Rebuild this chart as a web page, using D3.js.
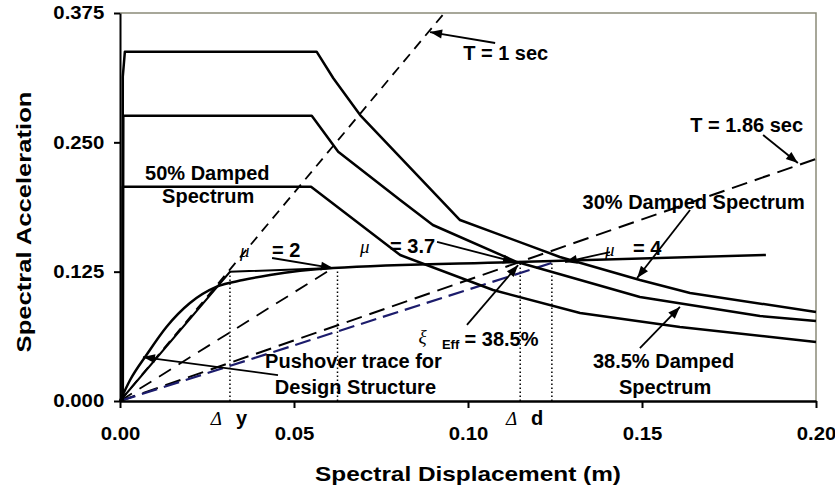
<!DOCTYPE html>
<html><head><meta charset="utf-8">
<script src="https://cdnjs.cloudflare.com/ajax/libs/d3/7.8.5/d3.min.js"></script>
<style>
body{margin:0;background:#fff}
svg text{font-family:"Liberation Sans",Arial,sans-serif;fill:#000}
</style></head><body><div id="chart"></div>
<script>
var xTicks = [0, 0.05, 0.10, 0.15, 0.20];
var yTicks = [0, 0.125, 0.250, 0.375];

// damped spectra, Sd (m) and Sa (g)
var sd30 = [0.0007, 0.0008, 0.0014, 0.0565, 0.0613, 0.0690, 0.0977, 0.1264, 0.1494, 0.1638, 0.2000];
var sa30 = [0, 0.3134, 0.3376, 0.3376, 0.3119, 0.2764, 0.1749, 0.1392, 0.1169, 0.1044, 0.0860];
var sd385 = [0.0008, 0.00095, 0.0551, 0.0627, 0.0805, 0.0899, 0.1141, 0.1494, 0.1839, 0.2000];
var sa385 = [0, 0.2757, 0.2757, 0.2410, 0.1943, 0.1701, 0.1343, 0.1005, 0.0822, 0.0773];
var sd50 = [0.0008, 0.0008, 0.0549, 0.0805, 0.1072, 0.1322, 0.1609, 0.2000];
var sa50 = [0, 0.2071, 0.2071, 0.1411, 0.1073, 0.0851, 0.0715, 0.0570];

// pushover trace and its bilinear idealisation
var sdPush = [0, 0.0029, 0.0077, 0.0134, 0.0201, 0.0278, 0.0353, 0.0431, 0.0612, 0.1141, 0.1856];
var saPush = [0, 0.0203, 0.0450, 0.0718, 0.0947, 0.1105, 0.1169, 0.1218, 0.1285, 0.1343, 0.1411];
var sdBilin = [0, 0.0316, 0.0612];
var saBilin = [0, 0.1249, 0.1285];

// period lines from the origin
var sdT1 = [0, 0.0932], saT1 = [0, 0.375];
var sdT186 = [0, 0.2], saT186 = [0, 0.2340];
var sdMu2 = [0, 0.0612], saMu2 = [0, 0.1285];
var sdMu4 = [0, 0.1241], saMu4 = [0, 0.1335];

// dotted drops: delta y, mu=2, delta d, mu=4
var sdDrop = [0.0316, 0.0625, 0.1150, 0.1241];
var saDrop = [0.1249, 0.1285, 0.1343, 0.1363];

// arrows (tail -> head)
var arrowFrom = [[.1078,.346],[.1848,.2571],[.1638,.1846],[.1408,.1440],[.0911,.1537],[.0437,.1382],[.0997,.0735],[.1494,.0512],[.0454,.0251]];
var arrowTo = [[.0891,.3566],[.1948,.2300],[.1486,.1189],[.1279,.1343],[.1135,.1343],[.0612,.1285],[.1144,.1314],[.1609,.0909],[.0066,.0425]];

var notes = [
  ["T = 1 sec", .0986, .3296, "start"],
  ["T = 1.86 sec", .1963, .2600, "end"],
  ["30% Damped Spectrum", .1968, .1856, "end"],
  ["50% Damped", .0072, .2136, "start"],
  ["Spectrum", .0121, .1914, "start"],
  ["Pushover trace for", .0417, .0319, "start"],
  ["Design Structure", .0445, .0068, "start"],
  ["38.5% Damped", .1359, .0319, "start"],
  ["Spectrum", .1434, .0068, "start"],
  ["= 2", .0437, .1392, "start"],
  ["= 3.7", .0776, .1430, "start"],
  ["= 4", .1474, .1411, "start"],
  ["= 38.5%", .0990, .0530, "start"],
  ["y", .0333, -.0232, "start"],
  ["d", .1181, -.0232, "start"]
];
var greek = [["μ", .0345, .1392], ["μ", .0690, .1430], ["μ", .1394, .1401], ["ξ", .0858, .0560], ["Δ", .0261, -.0232], ["Δ", .1109, -.0232]];

var W = 835, H = 490;
var x = d3.scaleLinear().domain([0, 0.2]).range([120, 816]);
var y = d3.scaleLinear().domain([0, 0.375]).range([401, 13]);
var SX = 1.13;

var svg = d3.select("#chart").append("svg").attr("width", W).attr("height", H);

svg.append("defs").append("marker").attr("id", "head").attr("viewBox", "0 -5 12 10").attr("refX", 12).attr("refY", 0)
  .attr("markerUnits", "userSpaceOnUse").attr("markerWidth", 13).attr("markerHeight", 10).attr("orient", "auto")
  .append("path").attr("d", "M0,-4.5L12,0L0,4.5Z").attr("fill", "#000");

// plot frame (top & right)
svg.append("path").attr("d", `M${x(0)},${y(0.375)}H${x(0.2)}V${y(0)}`).attr("fill", "none").attr("stroke", "#8a8a78").attr("stroke-width", 1.5);

var line = d3.line().x(p => x(p[0])).y(p => y(p[1]));
function pts(ds, as) { return ds.map((d, i) => [d, as[i]]); }

// dotted drops
svg.append("g").selectAll("line").data(pts(sdDrop, saDrop)).join("line")
  .attr("x1", p => x(p[0])).attr("x2", p => x(p[0])).attr("y1", y(0)).attr("y2", p => y(p[1]))
  .attr("stroke", "#000").attr("stroke-width", 1.5).attr("stroke-dasharray", "1.5,2.5");

// period lines
svg.append("path").attr("d", line(pts(sdT1, saT1))).attr("fill", "none").attr("stroke", "#000").attr("stroke-width", 1.8).attr("stroke-dasharray", "10,7");
svg.append("path").attr("d", line(pts(sdT186, saT186))).attr("fill", "none").attr("stroke", "#000").attr("stroke-width", 2).attr("stroke-dasharray", "16,8");
svg.append("path").attr("d", line(pts(sdMu2, saMu2))).attr("fill", "none").attr("stroke", "#000").attr("stroke-width", 1.8).attr("stroke-dasharray", "14,9");
svg.append("path").attr("d", line(pts(sdMu4, saMu4))).attr("fill", "none").attr("stroke", "#1c1c6c").attr("stroke-width", 2.2).attr("stroke-dasharray", "16,7");

// spectra
[[sd30, sa30], [sd385, sa385], [sd50, sa50]].forEach(function(s) {
  svg.append("path").attr("d", line(pts(s[0], s[1]))).attr("fill", "none").attr("stroke", "#000").attr("stroke-width", 2.5).attr("stroke-linejoin", "round");
});

// pushover
svg.append("path").attr("d", d3.line().x(p => x(p[0])).y(p => y(p[1])).curve(d3.curveMonotoneX)(pts(sdPush, saPush)))
  .attr("fill", "none").attr("stroke", "#000").attr("stroke-width", 2.5);
svg.append("path").attr("d", line(pts(sdBilin, saBilin))).attr("fill", "none").attr("stroke", "#000").attr("stroke-width", 2);

// axes
var gx = svg.append("g").attr("transform", `translate(0,${y(0)})`)
  .call(d3.axisBottom(x).tickValues(xTicks).tickSize(7).tickSizeOuter(0).tickFormat(d3.format(".2f")));
gx.select(".domain").attr("stroke-width", 2.5);
gx.selectAll(".tick line").attr("stroke-width", 2);
gx.selectAll(".tick text").attr("y", 39).attr("dy", null).attr("transform", `scale(${SX},1)`).style("font-size", "18px").style("font-weight", "bold");

var gy = svg.append("g").attr("transform", `translate(${x(0)},0)`)
  .call(d3.axisLeft(y).tickValues(yTicks).tickSize(6).tickSizeOuter(0).tickFormat(d3.format(".3f")));
gy.select(".domain").attr("stroke-width", 2);
gy.selectAll(".tick line").attr("stroke-width", 2);
gy.selectAll(".tick text").attr("x", -14).attr("transform", `scale(${SX},1)`).style("font-size", "18px").style("font-weight", "bold");

svg.append("text").attr("transform", `translate(${(x(0) + x(0.2)) / 2},481) scale(1.16,1)`).attr("text-anchor", "middle")
  .style("font-size", "21px").style("font-weight", "bold").text("Spectral Displacement (m)");
svg.append("text").attr("transform", `translate(31,${(y(0) + y(0.375)) / 2 + 15}) rotate(-90) scale(1.22,1)`).attr("text-anchor", "middle")
  .style("font-size", "21px").style("font-weight", "bold").text("Spectral Acceleration");

// arrows
svg.append("g").selectAll("line").data(arrowFrom).join("line")
  .attr("x1", p => x(p[0])).attr("y1", p => y(p[1]))
  .attr("x2", (p, i) => x(arrowTo[i][0])).attr("y2", (p, i) => y(arrowTo[i][1]))
  .attr("stroke", "#000").attr("stroke-width", 1.8).attr("marker-end", "url(#head)");

// notes
svg.append("g").selectAll("text").data(notes).join("text")
  .attr("x", n => x(n[1])).attr("y", n => y(n[2])).attr("text-anchor", n => n[3])
  .style("font-size", "20px").style("font-weight", "bold").text(n => n[0]);
svg.append("g").selectAll("text").data(greek).join("text")
  .attr("x", n => x(n[1])).attr("y", n => y(n[2]))
  .style("font-family", "'Liberation Serif',serif").style("font-style", "italic").style("font-size", "19px").text(n => n[0]);
svg.append("text").attr("x", x(.0925)).attr("y", y(.0505)).style("font-size", "13px").style("font-weight", "bold").text("Eff");
</script></body></html>
